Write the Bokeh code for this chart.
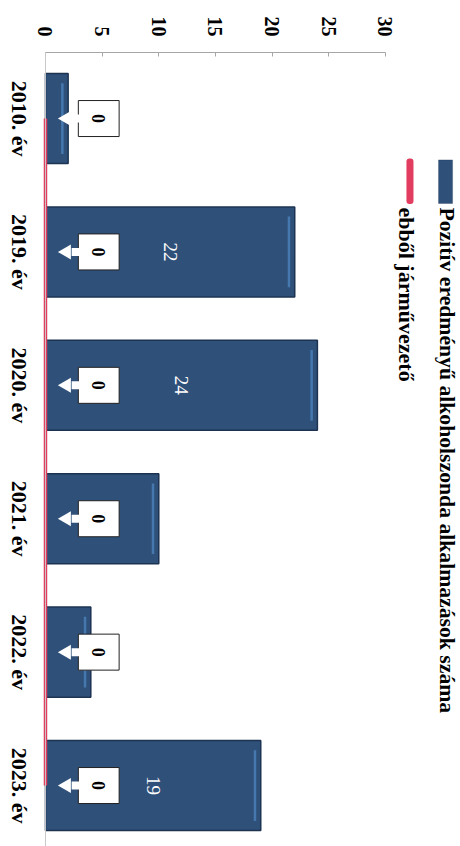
import math
from bokeh.plotting import figure
from bokeh.models import ColumnDataSource, Range1d, FixedTicker, Label, BoxAnnotation, Span
from bokeh.core.properties import value
from bokeh.embed import file_html
from bokeh.resources import INLINE

# ---- data ----
years = ["2010. év", "2019. év", "2020. év", "2021. év", "2022. év", "2023. év"]
positive_tests = [2, 22, 24, 10, 4, 19]
of_which_drivers = [0, 0, 0, 0, 0, 0]
bar_label_text = ["", "22", "24", "", "", "19"]
value_ticks = [0, 5, 10, 15, 20, 25, 30]
series_names = ["Pozitív eredményű alkoholszonda alkalmazások száma", "ebből járművezető"]

BAR = "#2f5079"
BAR_EDGE = "#1d3352"
BAR_LIGHT = "#4a82bd"
RED = "#e23d5e"
FONT = "Liberation Serif"
CAT_LABEL_X = -2.3   # where the rotated category labels sit, in value units

pos = list(range(len(years)))
src = ColumnDataSource(dict(
    y=pos,
    cat=years,
    cx=[CAT_LABEL_X] * len(years),
    v=positive_tests,
    half=[v / 2 for v in positive_tests],
    sl=[v - 0.62 for v in positive_tests],
    sr=[v - 0.40 for v in positive_tests],
    lbl=bar_label_text,
    d=of_which_drivers,
    box_x=[d + 4.7 for d in of_which_drivers],
    stem_x=[d + 2.75 for d in of_which_drivers],
    head_x=[d + 1.86 for d in of_which_drivers],
    dl=[str(d) for d in of_which_drivers],
))

p = figure(width=460, height=846,
           x_range=Range1d(-3.97, 36.63), y_range=Range1d(5.457, -0.495),
           x_axis_location="above", y_axis_location=None,
           output_backend="svg", toolbar_location=None,
           min_border_left=0, min_border_top=52, min_border_right=0, min_border_bottom=0)
p.background_fill_color = "white"
p.border_fill_color = "white"
p.outline_line_color = None
p.xgrid.visible = False
p.ygrid.visible = False

# category axis line
p.add_layout(Span(location=0, dimension="height", line_color="#c8c8c8", line_width=1))

# category labels (rotated like the whole chart)
p.text(x="cx", y="y", text="cat", source=src, angle=-math.pi / 2,
       text_align="center", text_baseline="middle", text_color="black",
       text_font=value(FONT), text_font_style="bold", text_font_size="22px")

# bars
p.hbar(y="y", left=0, right="v", height=0.675, source=src,
       fill_color=BAR, line_color=BAR_EDGE, line_width=1.5)
p.hbar(y="y", left="sl", right="sr", height=0.53, source=src,
       fill_color=BAR_LIGHT, fill_alpha=0.8, line_color=None)

# driver line
p.line(x="d", y="y", source=src, line_color=RED, line_width=3.5)

# bar value labels
p.text(x="half", y="y", text="lbl", source=src, angle=-math.pi / 2,
       text_align="center", text_baseline="middle", text_color="white",
       text_font=value(FONT), text_font_size="19px")

# callouts for the driver series
p.rect(x="box_x", y="y", width=3.6, height=36, height_units="screen", source=src,
       fill_color="white", line_color="#222222", line_width=1)
p.rect(x="stem_x", y="y", width=10, height=8, width_units="screen", height_units="screen",
       source=src, fill_color="white", line_color=None)
p.scatter(x="head_x", y="y", marker="triangle", size=15, angle=math.pi / 2, source=src,
          fill_color="white", line_color=None)
p.text(x="box_x", y="y", text="dl", source=src, angle=-math.pi / 2,
       text_align="center", text_baseline="middle", text_color="black",
       text_font=value(FONT), text_font_style="bold", text_font_size="18px")

# value axis (top)
xa = p.xaxis[0]
xa.ticker = FixedTicker(ticks=value_ticks)
xa.bounds = (0, 30)
xa.major_label_orientation = -math.pi / 2
xa.major_label_text_font = FONT
xa.major_label_text_font_style = "bold"
xa.major_label_text_font_size = "20px"
xa.major_label_text_color = "black"
xa.major_label_standoff = 16
xa.axis_line_color = "#a6a6a6"
xa.major_tick_line_color = "#a6a6a6"
xa.major_tick_in = 4
xa.major_tick_out = 0
xa.minor_tick_line_color = None

# legend (drawn rotated like the rest of the chart)
p.add_layout(BoxAnnotation(left=34.69, right=35.93, top=0.31, bottom=0.637,
                           fill_color=BAR, fill_alpha=1, line_color=BAR_EDGE, line_width=1))
p.add_layout(BoxAnnotation(left=31.86, right=32.48, top=0.3, bottom=0.64,
                           fill_color=RED, fill_alpha=1, line_color=None, border_radius=3))
p.add_layout(Label(x=35.4, y=0.667, text=series_names[0], angle=-math.pi / 2,
                   text_align="left", text_baseline="middle", text_font=FONT,
                   text_font_style="bold", text_font_size="21.7px", text_color="black"))
p.add_layout(Label(x=31.86, y=0.667, text=series_names[1], angle=-math.pi / 2,
                   text_align="left", text_baseline="middle", text_font=FONT,
                   text_font_style="bold", text_font_size="22px", text_color="black"))

open("out.html", "w").write(file_html(p, INLINE))
